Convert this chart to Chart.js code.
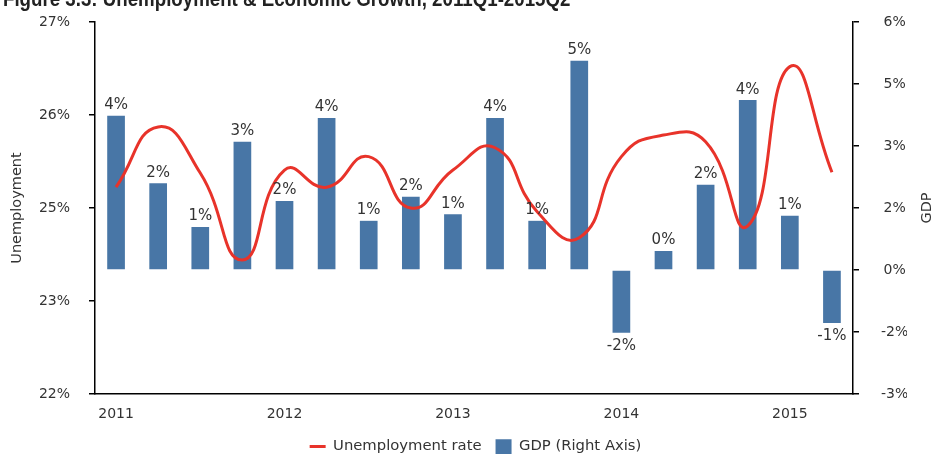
<!DOCTYPE html>
<html>
<head>
<meta charset="utf-8">
<script src="https://cdn.jsdelivr.net/npm/chart.js@4/dist/chart.umd.min.js"></script>
<style>
  html, body { margin: 0; padding: 0; background: #fff; overflow: hidden; }
  #wrap { position: relative; width: 934px; height: 454px; overflow: hidden; }
  #fig-title {
    position: absolute; left: 3px; top: -14px;
    font: bold 22px "Liberation Sans Narrow", "Liberation Sans", sans-serif;
    color: #222; white-space: nowrap;
    transform: scaleX(0.85); transform-origin: 0 0;
  }
  #chart { position: absolute; left: 0; top: 0; }
</style>
</head>
<body>
<div id="wrap">
  <canvas id="chart" width="934" height="464"></canvas>
  <div id="fig-title">Figure 3.3: Unemployment &amp; Economic Growth, 2011Q1-2015Q2</div>
</div>
<script>
var quarters = [
    "2011Q1", "2011Q2", "2011Q3", "2011Q4",
    "2012Q1", "2012Q2", "2012Q3", "2012Q4",
    "2013Q1", "2013Q2", "2013Q3", "2013Q4",
    "2014Q1", "2014Q2", "2014Q3", "2014Q4",
    "2015Q1", "2015Q2"
];

// unemployment rate, % (left axis)
var unemploymentRate = [
    24.78, 25.59, 24.97, 23.80,
    25.01, 24.78, 25.19, 24.50,
    25.01, 25.31, 24.45, 24.10,
    25.19, 25.48, 25.39, 24.26,
    26.40, 24.98
];

// GDP growth, % (right axis)
var gdpGrowth = [
    3.73, 2.10, 1.04, 3.10,
    1.67, 3.68, 1.19, 1.77,
    1.35, 3.68, 1.19, 5.06,
    -1.52, 0.46, 2.06, 4.11,
    1.31, -1.28
];

var textColor = "#333333";
var fontFamily = "'DejaVu Sans', Verdana, sans-serif";

// plot box edges in canvas pixels
var plotTop = 22;
var plotBottom = 394;
var xAxisHeight = 31.2;

// excel-style rounding, halves go away from zero
function pct(v) {
    let r = Math.sign(v) * Math.round(Math.abs(v) + 1e-9);
    if (r === 0) r = 0;
    return r + "%";
}

// value labels on the GDP bars + the right axis title
var barLabels = {
    id: "barLabels",
    afterLayout(chart) {
        // legend sits centred under the plot, not the canvas
        chart.legend.left += 22;
        chart.legend.right += 22;
    },
    afterDatasetsDraw(chart) {
        let ctx = chart.ctx;
        let meta = chart.getDatasetMeta(1);
        ctx.save();
        ctx.font = "15px " + fontFamily;
        ctx.fillStyle = textColor;
        ctx.textAlign = "center";
        meta.data.forEach(function (bar, i) {
            let v = gdpGrowth[i];
            if (v >= 0) {
                ctx.textBaseline = "bottom";
                ctx.fillText(pct(v), bar.x, bar.y - 3);
            } else {
                ctx.textBaseline = "top";
                ctx.fillText(pct(v), bar.x, bar.y + 6);
            }
        });

        let area = chart.chartArea;
        ctx.translate(927, (area.top + area.bottom) / 2);
        ctx.rotate(-Math.PI / 2);
        ctx.font = "14.5px " + fontFamily;
        ctx.textBaseline = "middle";
        ctx.fillText("GDP", 0, 0);
        ctx.restore();
    }
};

// fixed axis width; drop the label padding so it doesn't push the plot down
function fixWidth(w) {
    return function (scale) {
        scale.width = w;
        scale.paddingTop = 0;
        scale.paddingBottom = 0;
    };
}

var chartData = {
    labels: quarters,
    datasets: [{
        type: "line",
        label: "Unemployment rate",
        data: unemploymentRate,
        yAxisID: "y",
        borderColor: "#e8332a",
        backgroundColor: "#e8332a",
        borderWidth: 3,
        tension: 0.5,
        pointRadius: 0,
        fill: false,
        order: 0
    }, {
        type: "bar",
        label: "GDP (Right Axis)",
        data: gdpGrowth,
        yAxisID: "y1",
        backgroundColor: "#4876a6",
        barPercentage: 0.42,
        categoryPercentage: 1.0,
        order: 1
    }]
};

var chartOptions = {
    responsive: false,
    animation: false,
    layout: {
        autoPadding: false,
        padding: { top: plotTop, left: 0, right: 27, bottom: 0 }
    },
    plugins: {
        tooltip: { enabled: false },
        legend: {
            position: "bottom",
            labels: {
                color: textColor,
                font: { family: fontFamily, size: 14.8 },
                padding: 14,
                usePointStyle: true,
                boxHeight: 15,
                pointStyleWidth: 16,
                generateLabels(chart) {
                    return chart.data.datasets.map(function (ds, i) {
                        return {
                            text: ds.label,
                            datasetIndex: i,
                            fillStyle: ds.backgroundColor,
                            strokeStyle: ds.type === "line" ? ds.borderColor : ds.backgroundColor,
                            lineWidth: ds.type === "line" ? 3 : 0,
                            pointStyle: ds.type === "line" ? "line" : "rect",
                            fontColor: textColor
                        };
                    });
                }
            }
        }
    },
    scales: {
        x: {
            type: "category",
            offset: true,
            grid: { display: false },
            border: { color: "#000", width: 1.5 },
            ticks: {
                color: textColor,
                font: { family: fontFamily, size: 14 },
                autoSkip: false,
                maxRotation: 0,
                padding: 4,
                callback: function (v, i) {
                    let q = quarters[i];
                    return q.endsWith("Q1") ? q.slice(0, 4) : "";
                }
            },
            afterFit: function (scale) { scale.height = xAxisHeight; }
        },
        y: {
            position: "left",
            min: 22,
            max: 27,
            border: { color: "#000", width: 1.5 },
            grid: { drawOnChartArea: false, color: "#000", tickLength: 6, lineWidth: 1.5 },
            ticks: {
                stepSize: 1.25,
                color: textColor,
                font: { family: fontFamily, size: 14 },
                padding: 19,
                callback: function (v) { return pct(v); }
            },
            title: {
                display: true,
                text: "Unemployment",
                color: textColor,
                font: { family: fontFamily, size: 14.5 },
                padding: { top: 9, bottom: 0 }
            },
            afterFit: fixWidth(95)
        },
        y1: {
            position: "right",
            min: -3,
            max: 6,
            border: { color: "#000", width: 1.5 },
            grid: { drawOnChartArea: false, color: "#000", tickLength: 6, lineWidth: 1.5 },
            ticks: {
                stepSize: 1.5,
                color: textColor,
                font: { family: fontFamily, size: 14 },
                padding: 22,
                crossAlign: "center",
                callback: function (v) { return pct(v); }
            },
            afterFit: fixWidth(54)
        }
    }
};

var ctx = document.getElementById("chart").getContext("2d");
var comboChart = new Chart(ctx, {
    data: chartData,
    options: chartOptions,
    plugins: [barLabels]
});

// pin the plot box to its edges if the layout drifted
var area = comboChart.chartArea;
var dTop = plotTop - area.top;
var dBottom = area.bottom - plotBottom;
if (Math.abs(dTop) > 0.5 || Math.abs(dBottom) > 0.5) {
    comboChart.options.layout.padding.top += dTop;
    xAxisHeight += dBottom;
    comboChart.update();
}
</script>
</body>
</html>
